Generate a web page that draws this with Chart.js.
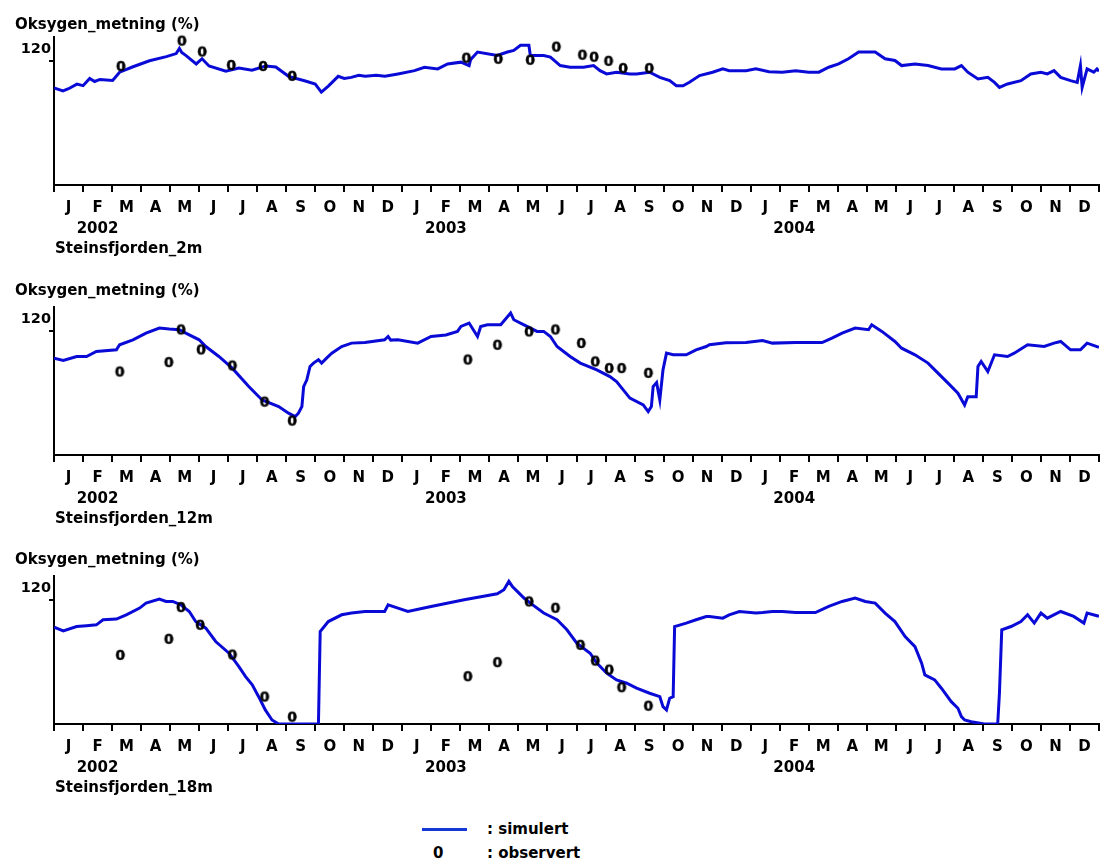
<!DOCTYPE html>
<html><head><meta charset="utf-8">
<script src="https://cdn.jsdelivr.net/npm/chart.js@4.4.0/dist/chart.umd.min.js"></script>
<style>
html,body{margin:0;padding:0;background:#fff;width:1106px;height:863px;overflow:hidden;position:relative;}
canvas{position:absolute;left:0;}
.lg{position:absolute;font:bold 15px "DejaVu Sans";color:#000;line-height:18px;white-space:nowrap;}
</style></head><body>
<canvas id="c0" width="1106" height="270" style="top:-1px"></canvas>
<canvas id="c1" width="1106" height="270" style="top:269px"></canvas>
<canvas id="c2" width="1106" height="270" style="top:538px"></canvas>
<div style="position:absolute;left:422px;top:828px;width:45px;height:3px;background:#1438d8"></div>
<div class="lg" style="left:433px;top:844px">0</div>
<div class="lg" style="left:487px;top:820px">: simulert</div>
<div class="lg" style="left:487px;top:844px">: observert</div>
<script>
// x values are months since 1 Jan 2002 (0 .. 36)
const monthLetters = ['J','F','M','A','M','J','J','A','S','O','N','D'];
const yearLabels = ['2002','2003','2004'];
const stations = ['Steinsfjorden_2m','Steinsfjorden_12m','Steinsfjorden_18m'];
const yAxisTitle = 'Oksygen_metning (%)';
const yTickValues = [120];

const sim2mT = [0,0.31,0.5,0.79,1.0,1.23,1.4,1.58,2.02,2.26,2.7,3.29,3.87,4.21,4.32,4.4,4.55,4.9,5.1,5.34,5.92,6.37,6.82,7.29,7.64,8.08,8.66,9.0,9.21,9.45,9.79,10.0,10.24,10.5,10.72,11.1,11.4,11.85,12.42,12.76,13.22,13.56,14.02,14.3,14.35,14.59,15.27,15.62,15.84,16.07,16.36,16.41,16.87,17.1,17.44,17.78,18.24,18.59,18.81,19.04,19.38,19.84,20.07,20.52,20.87,21.21,21.44,21.67,21.89,22.24,22.69,23.04,23.26,23.61,23.84,24.18,24.63,25.09,25.55,26.0,26.35,26.69,27.03,27.37,27.72,28.29,28.63,28.97,29.2,29.66,30.11,30.57,31.03,31.26,31.48,31.83,32.17,32.4,32.57,32.85,33.31,33.65,34.0,34.22,34.45,34.68,35.02,35.25,35.36,35.42,35.59,35.82,35.93,36];
const sim2mV = [93.7,91,93,97.5,96,103,100,102,101,109,114,120,124,127,132,128,125,117,122,115,110,113,111,115,114,105,100.5,97.6,89.8,95.6,105,103,104,106,105,106,105,107.3,110.5,113.8,112.2,117,118.7,115.4,121,128.5,125.2,128.5,130,135,135,125.2,125.2,123.6,115.4,113.8,113.8,115.4,110.5,107.3,109,107.3,107.3,109,104,100.8,95.9,95.9,99.2,105.7,109,112.2,110.5,110.5,110.5,112.2,109.5,109,110.5,109,109,113.8,117,122,128.5,128.5,122,120.3,115.4,117,115.4,112.2,112.2,115.4,109,102.4,104,99.2,94.3,97.6,100.8,107.3,109,107.3,110.5,104,100.8,99.2,115.4,94.3,112.2,109,112.2,110];
const obs2mT = [2.3,4.4,5.1,6.1,7.2,8.2,14.2,15.3,16.4,17.3,18.2,18.6,19.1,19.6,20.5];
const obs2mV = [114,138.5,128,115,114,104.5,122,121,120,132.7,124.9,123,119,112,112];

const sim12mT = [0,0.32,0.78,1.12,1.46,2.15,2.26,2.72,3.17,3.63,3.97,4.32,4.54,5.0,5.23,5.68,6.14,6.71,7.17,7.74,8.08,8.31,8.42,8.54,8.6,8.71,8.82,8.94,9.11,9.22,9.39,9.57,9.91,10.25,10.71,11.39,11.51,11.6,11.85,12.53,12.99,13.5,13.9,14.02,14.3,14.59,14.7,14.93,15.39,15.73,15.84,16.19,16.64,16.87,17.1,17.33,17.78,18.13,18.7,19.15,19.38,19.61,19.84,20.3,20.47,20.58,20.64,20.76,20.87,20.98,21.1,21.33,21.78,22.12,22.47,22.58,23.15,23.84,24.41,24.75,25.55,26.46,26.8,27.15,27.6,28.06,28.17,28.52,28.97,29.2,29.66,30.11,30.34,30.8,31.14,31.37,31.48,31.77,31.83,31.94,32.17,32.4,32.85,33.08,33.54,34.11,34.45,34.68,35.02,35.36,35.59,35.93,36];
const sim12mV = [93.6,91.3,95.2,95.2,100,101.6,106.5,111.3,117.8,122.6,121.7,121,117.8,111.3,104.8,95.2,83.9,66.1,53.2,46.8,40.4,37.1,40.4,46.8,66.1,72.6,85.5,88.8,92,88.8,93.6,98.4,104.8,108.1,108.7,111.3,114.5,111,111.3,108.1,114.5,116,119.4,124.2,127.5,114.5,124.2,125.8,125.8,137.2,130.7,125.8,119.4,119.4,114.5,104.8,95.2,88.8,82.3,75.8,71,62.9,54.9,48.4,41.9,46.8,66.1,70,53.2,82.3,98.4,96.8,96.8,101.6,104.8,106.5,108.5,108.7,110.6,108.1,108.7,108.7,112.9,117.8,122.6,121,125.8,119.4,109.7,103.2,96.8,88.8,82.3,69.4,59.7,48.4,56.4,56.4,85.5,90.3,80.6,96.8,95.2,98.4,106.5,104.8,108.1,109.7,101.6,101.6,108.1,104.8,104];
const obs12mT = [2.26,3.95,4.37,5.06,6.14,7.25,8.2,14.25,15.27,16.36,17.27,18.16,18.64,19.12,19.55,20.47];
const obs12mV = [79.7,88.8,120.3,101,85.5,50.6,32.3,91.3,105.5,118.4,120.3,107.2,89.4,83,83,78.4];

const sim18mT = [0,0.32,0.78,1.12,1.46,1.69,2.15,2.49,2.95,3.17,3.63,3.86,4.09,4.37,4.66,4.88,5.23,5.57,6.03,6.37,6.6,6.83,7.05,7.28,7.51,7.74,9.11,9.17,9.45,9.91,10.25,10.71,11.39,11.51,11.85,12.19,12.99,14.13,15.27,15.5,15.67,15.79,15.96,16.19,16.41,16.87,17.33,17.67,18.01,18.47,18.7,19.04,19.38,19.73,20.07,20.52,20.87,20.98,21.1,21.21,21.33,21.38,21.78,22.12,22.47,22.58,23.04,23.26,23.61,24.18,24.41,24.75,25.09,25.55,26.23,26.69,27.15,27.6,27.95,28.29,28.63,28.97,29.32,29.66,29.89,30.0,30.34,30.57,30.91,31.14,31.26,31.37,31.6,32.05,32.51,32.57,32.65,32.97,33.31,33.54,33.77,34.0,34.22,34.68,35.13,35.48,35.59,35.93,36];
const sim18mV = [93.6,90,94.2,94.9,95.8,100.7,101.4,105.5,112,116.8,120.7,118.4,118.4,115.2,108.7,99,92.6,79.7,68.4,55.5,45.8,37.8,26.4,13.6,3.9,0,0,89.4,99,105.5,107.2,108.7,108.7,115.2,112,108.7,113.6,120,125.8,129.7,137.8,132.9,128.1,121.7,116.8,107.2,100.7,91,78.1,68.4,58.8,49.1,42.6,39.4,34.6,29.7,26.4,16.7,13.6,24.9,26.4,94.2,97.5,100.7,103.9,103.9,102.3,105.5,108.7,107.2,107.7,108.7,108.7,107.7,107.7,113.6,118.4,121.7,118.4,116.8,107.2,99,84.5,74.8,58.8,47.4,42.6,34.6,21.6,15.2,7.1,3.9,2.2,0,0,29.7,91,94.2,99,105.5,97.5,107.2,102.3,108.7,103.9,97.5,107.2,104.6,104];
const obs18mT = [2.28,3.95,4.37,5.03,6.14,7.25,8.2,14.25,15.27,16.36,17.27,18.13,18.64,19.12,19.55,20.47];
const obs18mV = [65.8,81.3,112,94.9,66.1,25.5,6.1,45.2,58.8,117.4,111.3,75.5,60.3,51.6,34.6,16.7];

const FONT = '"DejaVu Sans", "Liberation Sans", Arial, sans-serif';
const LINE_COLOR = 'rgb(10,10,215)';

// observation marker: a bold "0" glyph
const marker = document.createElement('canvas');
marker.width = 14; marker.height = 16;
(function(){
  const m = marker.getContext('2d');
  m.fillStyle = '#000';
  m.strokeStyle = '#000';
  m.lineWidth = 0.5;
  m.font = 'bold 14px ' + FONT;
  m.textAlign = 'center';
  m.textBaseline = 'middle';
  m.fillText('0', 7, 8.5);
  m.strokeText('0', 7, 8.5);
})();

const zip = (t, v) => t.map((x, i) => ({x: x, y: v[i]}));

const panelText = {
  id: 'panelText',
  afterDraw(chart) {
    const o = chart.options.plugins.panelText;
    const ctx = chart.ctx, xs = chart.scales.x;
    const base = chart.chartArea.bottom;
    ctx.save();
    ctx.fillStyle = '#000';
    ctx.font = 'bold 15px ' + FONT;
    ctx.textBaseline = 'middle';
    ctx.textAlign = 'left';
    ctx.fillText(yAxisTitle, 15, o.titleY);
    ctx.textAlign = 'center';
    yearLabels.forEach((y, i) => ctx.fillText(y, xs.getPixelForValue(i * 12 + 1.5), base + 44.5));
    ctx.textAlign = 'left';
    ctx.fillText(o.station, 55, base + 64);
    ctx.restore();
  }
};

function makePanel(id, simT, simV, obsT, obsV, station, titleY) {
  new Chart(document.getElementById(id), {
    type: 'line',
    data: {
      datasets: [
        {data: zip(simT, simV), borderColor: LINE_COLOR, borderWidth: 3, pointRadius: 0, tension: 0, fill: false, order: 2},
        {data: zip(obsT, obsV), showLine: false, pointStyle: marker, pointRadius: 7, borderWidth: 0, order: 1, clip: false}
      ]
    },
    plugins: [panelText],
    options: {
      responsive: false, animation: false, devicePixelRatio: 1,
      layout: {padding: {top: 38, right: 2, left: 0, bottom: 0}},
      plugins: {legend: {display: false}, tooltip: {enabled: false}, panelText: {station: station, titleY: titleY}},
      scales: {
        x: {
          type: 'linear', min: 0, max: 36,
          afterFit: s => { s.height = 84; },
          afterBuildTicks: s => { s.ticks = Array.from({length: 36}, (_, i) => ({value: i + 0.5})); },
          ticks: {autoSkip: false, maxRotation: 0, padding: 7, color: '#000',
                  font: {family: FONT, size: 15, weight: 'bold'},
                  callback: (v, i) => monthLetters[i % 12]},
          grid: {offset: true, drawOnChartArea: false, drawTicks: true, tickLength: 7, color: '#000', lineWidth: 2},
          border: {display: true, color: '#000', width: 2}
        },
        y: {
          type: 'linear', min: 0, max: 143,
          afterFit: s => { s.width = 54; },
          afterBuildTicks: s => { s.ticks = yTickValues.map(v => ({value: v})); },
          ticks: {padding: -2, labelOffset: -12, color: '#000', font: {family: FONT, size: 14.5, weight: 'bold'}},
          grid: {drawOnChartArea: false, drawTicks: true, tickLength: 5, color: '#000', lineWidth: 2},
          border: {display: true, color: '#000', width: 2}
        }
      }
    }
  });
}

makePanel('c0', sim2mT, sim2mV, obs2mT, obs2mV, stations[0], 26);
makePanel('c1', sim12mT, sim12mV, obs12mT, obs12mV, stations[1], 22.5);
makePanel('c2', sim18mT, sim18mV, obs18mT, obs18mV, stations[2], 22);
</script>
</body></html>
